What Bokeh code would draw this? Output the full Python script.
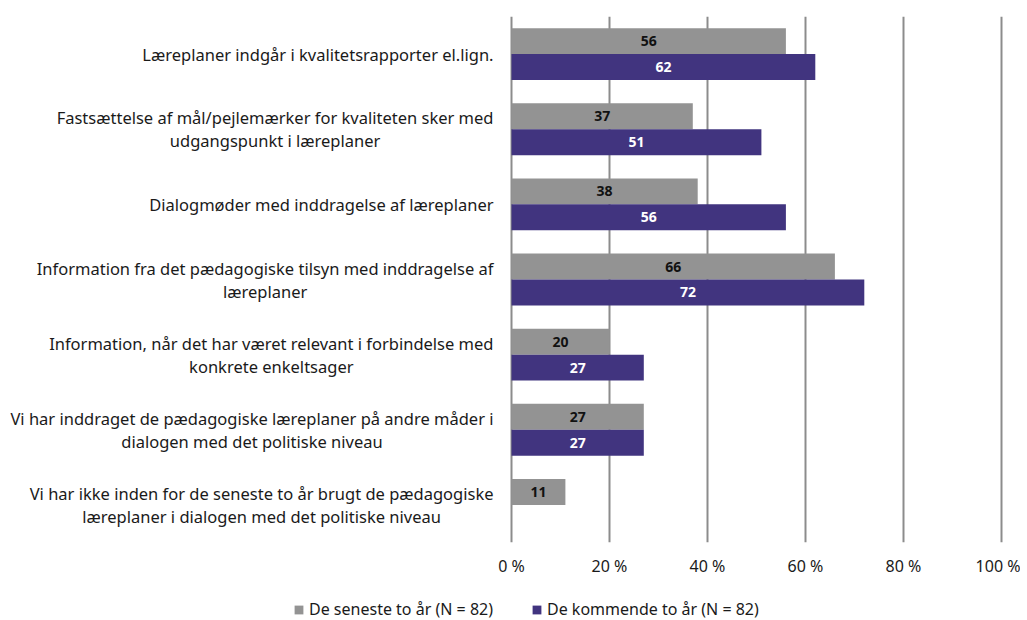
from bokeh.plotting import figure
from bokeh.layouts import column
from bokeh.models import Range1d, FixedTicker, Legend, LegendItem, ColumnDataSource
from bokeh.core.properties import value
from bokeh.embed import file_html
from bokeh.resources import INLINE

categories = [
    "Læreplaner indgår i kvalitetsrapporter el.lign.",
    "Fastsættelse af mål/pejlemærker for kvaliteten sker med\nudgangspunkt i læreplaner",
    "Dialogmøder med inddragelse af læreplaner",
    "Information fra det pædagogiske tilsyn med inddragelse af\nlæreplaner",
    "Information, når det har været relevant i forbindelse med\nkonkrete enkeltsager",
    "Vi har inddraget de pædagogiske læreplaner på andre måder i\ndialogen med det politiske niveau",
    "Vi har ikke inden for de seneste to år brugt de pædagogiske\nlæreplaner i dialogen med det politiske niveau",
]
seneste = [56, 37, 38, 66, 20, 27, 11]
kommende = [62, 51, 56, 72, 27, 27, 0]
series_names = ["De seneste to år (N = 82)", "De kommende to år (N = 82)"]
tick_values = [0, 20, 40, 60, 80, 100]
tick_labels = ["0 %", "20 %", "40 %", "60 %", "80 %", "100 %"]

GRAY = "#939393"
PURPLE = "#41347f"
FONT = "Noto Sans"

W, H = 1020, 580
FRAME_W = 1010
PX_PER_UNIT = 4.9
x0 = -511 / PX_PER_UNIT
x1 = x0 + FRAME_W / PX_PER_UNIT

n = len(categories)
p = figure(width=W, height=H, output_backend="svg", toolbar_location=None,
           x_range=Range1d(x0, x1), y_range=Range1d(n - 0.5, -0.5),
           min_border_left=0, min_border_right=W - FRAME_W,
           min_border_top=16, min_border_bottom=H - 542)
p.outline_line_color = None
p.yaxis.visible = False
p.ygrid.grid_line_color = None

bh = 0.345
ys = list(range(n))
src_a = ColumnDataSource(dict(y=[y - bh / 2 for y in ys], v=seneste,
                              xm=[v / 2 for v in seneste], t=[str(v) for v in seneste]))
src_b = ColumnDataSource(dict(y=[y + bh / 2 for y in ys], v=kommende,
                              xm=[v / 2 for v in kommende], t=[str(v) if v else "" for v in kommende]))

p.hbar(y="y", left=0, right="v", height=bh, source=src_a, fill_color=GRAY, line_color=None)
p.hbar(y="y", left=0, right="v", height=bh, source=src_b, fill_color=PURPLE, line_color=None)

p.text(x="xm", y="y", text="t", source=src_a, text_align="center", text_baseline="middle",
       text_font=value(FONT), text_font_style="bold", text_font_size="14px", text_color="#111111")
p.text(x="xm", y="y", text="t", source=src_b, text_align="center", text_baseline="middle",
       text_font=value(FONT), text_font_style="bold", text_font_size="14px", text_color="#ffffff")

# category labels (right edge 18px left of the 0 line, lines centred)
p.text(x=[-18 / PX_PER_UNIT] * n, y=ys, text=categories, text_align="center",
       anchor="center_right", text_baseline="middle", text_line_height=1.0,
       text_font=value(FONT), text_font_size="16.5px", text_color="#1a1a1a")

p.xaxis.ticker = FixedTicker(ticks=tick_values)
p.xaxis.major_label_overrides = dict(zip(tick_values, tick_labels))
p.xaxis.axis_line_color = None
p.xaxis.major_tick_line_color = None
p.xaxis.minor_tick_line_color = None
p.xaxis.major_tick_out = 0
p.xaxis.major_label_standoff = 12
p.xaxis.major_label_text_font = FONT
p.xaxis.major_label_text_font_size = "16px"
p.xaxis.major_label_text_color = "#1a1a1a"
p.xgrid.ticker = FixedTicker(ticks=tick_values)
p.xgrid.grid_line_color = "#8c8c8c"
p.xgrid.grid_line_width = 2

# legend strip below the chart (its swatch renderers sit outside the visible range)
p2 = figure(width=W, height=40, output_backend="svg", toolbar_location=None,
            x_range=Range1d(0, 1), y_range=Range1d(0, 1),
            min_border_left=0, min_border_right=0, min_border_top=0, min_border_bottom=0)
p2.outline_line_color = None
p2.axis.visible = False
p2.grid.grid_line_color = None
la = p2.hbar(y=[-10], left=[0], right=[1], height=0.5, fill_color=GRAY, line_color=None)
lb = p2.hbar(y=[-10], left=[0], right=[1], height=0.5, fill_color=PURPLE, line_color=None)
legend = Legend(items=[LegendItem(label=series_names[0], renderers=[la]),
                       LegendItem(label=series_names[1], renderers=[lb])],
                orientation="horizontal", location=(293, 0),
                glyph_width=11, glyph_height=11, label_standoff=5, spacing=38,
                label_height=20, padding=0, margin=0, border_line_color=None,
                background_fill_alpha=0,
                label_text_font=FONT, label_text_font_size="16px", label_text_color="#1a1a1a")
p2.add_layout(legend, "center")

open("out.html", "w").write(file_html(column(p, p2, spacing=0), INLINE))
